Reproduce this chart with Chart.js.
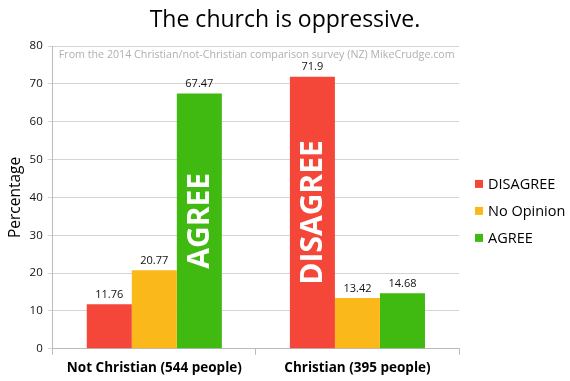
<!DOCTYPE html>
<html>
<head>
<meta charset="utf-8">
<script src="https://cdn.jsdelivr.net/npm/chart.js@4"></script>
<style>
  html, body { margin: 0; padding: 0; background: #fff; }
  #wrap { width: 570px; height: 381px; }
</style>
</head>
<body>
<div id="wrap"><canvas id="chart"></canvas></div>
<script>
const categories = ['Not Christian (544 people)', 'Christian (395 people)'];
const seriesNames = ['DISAGREE', 'No Opinion', 'AGREE'];
const disagree = [11.76, 71.9];
const noOpinion = [20.77, 13.42];
const agree = [67.47, 14.68];
const yTicks = [0, 10, 20, 30, 40, 50, 60, 70, 80];
// big white words written inside the tallest bar of each group
const bigWords = ['AGREE', 'DISAGREE'];
const bigWordSeries = [2, 0];
const chartTitle = 'The church is oppressive.';
const subtitle = 'From the 2014 Christian/not-Christian comparison survey (NZ) MikeCrudge.com';

const colors = ['#f4473a', '#fbb81a', '#40b911'];
const font = "'Open Sans', 'Noto Sans', sans-serif";

const labelPlugin = {
    id: 'barLabels',
    afterDraw(chart) {
        const ctx = chart.ctx;
        const area = chart.chartArea;
        ctx.save();

        // value labels above bars
        ctx.font = '11px ' + font;
        ctx.fillStyle = '#111';
        ctx.textAlign = 'center';
        ctx.textBaseline = 'bottom';
        chart.data.datasets.forEach((ds, di) => {
            chart.getDatasetMeta(di).data.forEach((bar, i) => {
                ctx.fillText(String(ds.data[i]), bar.x, bar.y - 4);
            });
        });

        // rotated words inside bars
        ctx.font = 'bold 30px ' + font;
        ctx.fillStyle = '#fff';
        ctx.textBaseline = 'middle';
        bigWords.forEach((word, i) => {
            const bar = chart.getDatasetMeta(bigWordSeries[i]).data[i];
            ctx.save();
            ctx.translate(bar.x + 1, (bar.y + bar.base) / 2);
            ctx.rotate(-Math.PI / 2);
            ctx.fillText(word, 0, 0);
            ctx.restore();
        });

        // title, centred on the whole picture
        ctx.font = '23px ' + font;
        ctx.fillStyle = '#000';
        ctx.fillText(chartTitle, chart.width / 2, 20);

        // source note at top of plot
        ctx.font = '10.7px ' + font;
        ctx.fillStyle = '#b0b0b0';
        ctx.textAlign = 'left';
        ctx.fillText(subtitle, area.left + 6, area.top + 9);

        // legend on the right
        ctx.font = '14.5px ' + font;
        const midY = (area.top + area.bottom) / 2 + 13.5;
        chart.data.datasets.forEach((ds, di) => {
            const y = midY + (di - 1) * 27;
            ctx.fillStyle = ds.backgroundColor;
            ctx.fillRect(area.right + 16, y - 4, 8, 8);
            ctx.fillStyle = '#000';
            ctx.fillText(ds.label, area.right + 29, y + 1);
        });

        ctx.restore();
    }
};

new Chart(document.getElementById('chart'), {
    type: 'bar',
    data: {
        labels: categories,
        datasets: [
            { label: seriesNames[0], data: disagree, backgroundColor: colors[0] },
            { label: seriesNames[1], data: noOpinion, backgroundColor: colors[1] },
            { label: seriesNames[2], data: agree, backgroundColor: colors[2] }
        ]
    },
    options: {
        responsive: true,
        maintainAspectRatio: false,
        animation: false,
        categoryPercentage: 0.665,
        barPercentage: 1,
        layout: { padding: { top: 46, right: 111, left: 6, bottom: 0 } },
        plugins: {
            legend: { display: false },
            tooltip: { enabled: false }
        },
        scales: {
            x: {
                grid: { drawOnChartArea: false, drawTicks: true, tickLength: 6, color: '#bbb' },
                border: { color: '#bbb' },
                ticks: { color: '#000', padding: 5, font: { family: font, size: 13.5, weight: 'bold' } }
            },
            y: {
                min: 0,
                max: 80,
                afterBuildTicks(axis) {
                    axis.ticks = yTicks.map(v => ({ value: v }));
                },
                grid: { color: '#d4d4d4', tickLength: 5 },
                border: { color: '#bbb' },
                ticks: { color: '#111', padding: 5, font: { family: font, size: 11.5 } },
                title: {
                    display: true,
                    text: 'Percentage',
                    color: '#000',
                    font: { family: font, size: 15.5 },
                    padding: { top: 0, bottom: 0 }
                }
            }
        }
    },
    plugins: [labelPlugin]
});
</script>
</body>
</html>
